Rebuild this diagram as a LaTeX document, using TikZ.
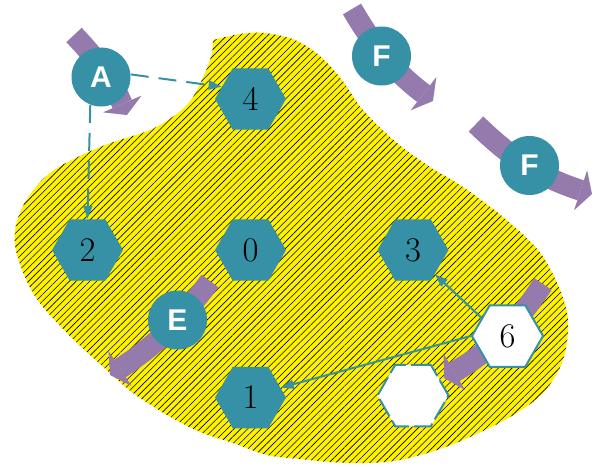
\documentclass[tikz,border=0pt]{standalone}
\usepackage{fontspec}
\newfontfamily\lettfont{Liberation Sans}
\usetikzlibrary{shapes.geometric,arrows.meta,patterns.meta}
\definecolor{tealc}{RGB}{54,145,167}
\definecolor{purp}{RGB}{148,122,173}
\tikzset{
  hexnode/.style={regular polygon, regular polygon sides=6, minimum size=35.5pt, inner sep=0pt, font=\LARGE},
  tealhex/.style={hexnode, fill=tealc},
  whitehex/.style={hexnode, fill=white, draw=tealc, line width=1pt},
  circnode/.style={circle, minimum size=29.5pt, inner sep=0pt, fill=tealc, text=white, font=\lettfont\bfseries\fontsize{15pt}{18pt}\selectfont},
  purparrow/.style={draw=purp, line width=10.5pt, -{Triangle[length=6pt,width=21pt,line width=0pt]}},
  conn/.style={draw=tealc, line width=1pt, -{Triangle[length=6.5pt,width=4.5pt]}},
  dashconn/.style={conn, dash pattern=on 9pt off 5pt},
  blob/.style={preaction={fill=yellow}, pattern={Lines[angle=45,distance=2.4pt,line width=0.3pt]}, pattern color=black}
}
\begin{document}
\begin{tikzpicture}[x=0.5pt,y=-0.5pt]
\useasboundingbox (0,0) rectangle (599,466);
% hatched region
\path[blob] plot[smooth, tension=0.55] coordinates {
  (213,40) (240,34) (265,33) (295,40) (320,56) (342,80) (363,110) (397,143)
  (430,167) (463,187) (503,217) (538,250) (558,285) (568,320) (563,360)
  (543,393) (510,417) (470,437) (437,450) (400,460) (367,463) (330,462)
  (300,459) (267,455) (233,443) (200,432) (167,415) (133,393) (110,373)
  (67,333) (33,293) (15,245) (22,208) (50,173) (100,147) (150,130)
  (178,113) (193,97) (205,73) (212,53) (213,40)} -- cycle;
% purple arrows (behind circles)
\coordinate (tA) at (74,35);   \coordinate (hA) at (127,115);
\coordinate (tF1) at (352,9);  \coordinate (hF1) at (433,101);
\coordinate (tF2) at (476,124); \coordinate (hF2) at (592,194);
\coordinate (tE) at (210,281); \coordinate (hE) at (110,375);
\coordinate (t6) at (543,284); \coordinate (h6) at (444,378);
\draw[purparrow] (tA) to[bend left=10] (hA);
\draw[purparrow] (tF1) to[bend right=11] (hF1);
\draw[purparrow] (tF2) to[bend right=13] (hF2);
\draw[purparrow] (tE) to[bend left=10] (hE);
\draw[purparrow] (t6) to[bend left=13] (h6);
% nodes
\node[circnode] (A) at (101,77) {A};
\node[circnode] (F1) at (381.5,56) {F};
\node[circnode] (F2) at (529.5,165.5) {F};
\node[circnode] (E) at (177.5,320) {E};
\node[tealhex] (n4) at (250.5,99) {4};
\node[tealhex] (n2) at (87.5,250) {2};
\node[tealhex] (n0) at (250.5,250) {0};
\node[tealhex] (n3) at (413,250) {3};
\node[tealhex] (n1) at (250.5,397.5) {1};
\node[whitehex] (n6) at (507.5,336) {6};
\node[whitehex, dash pattern=on 10pt off 2.5pt] (blank) at (413,395.5) {};
% connectors
\draw[dashconn] (A.5) -- (n4.157);
\draw[dashconn] (A.249) -- (n2.north);
\draw[conn] (n6.145) -- (n3.-48);
\draw[conn] (n6.west) -- (n1.18);
\end{tikzpicture}
\end{document}
